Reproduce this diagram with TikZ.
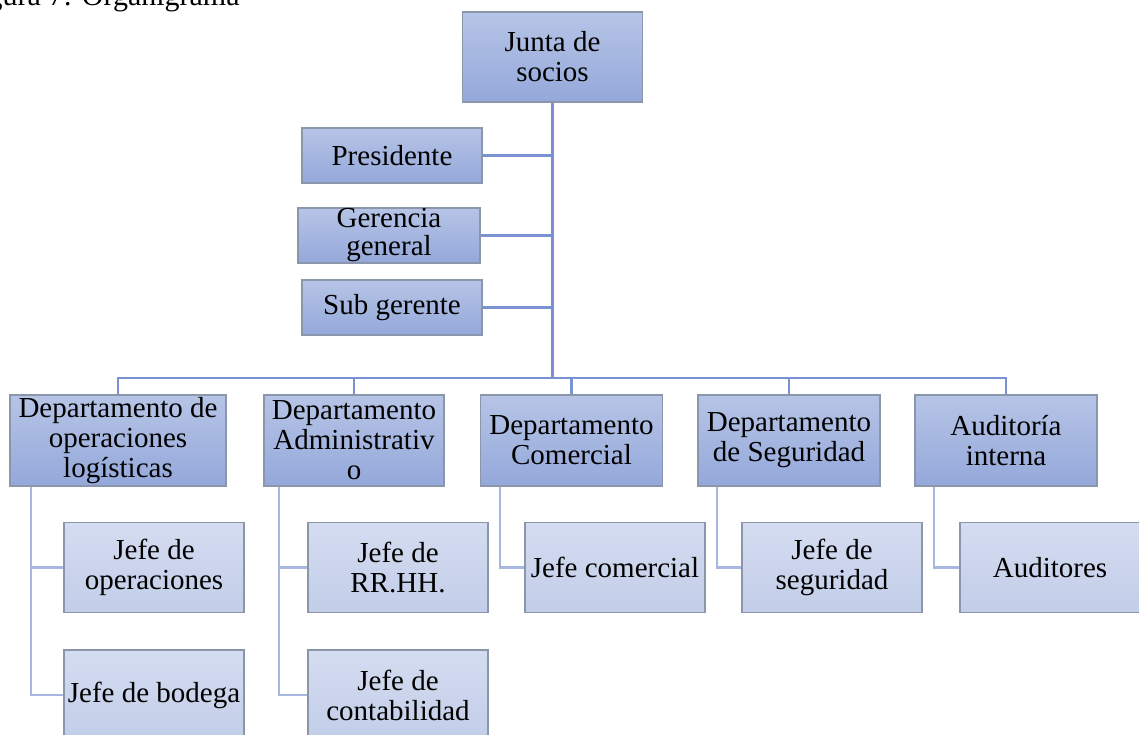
\documentclass[tikz,border=0pt]{standalone}
\usepackage{fontspec}
\setmainfont{Liberation Serif}
\usetikzlibrary{positioning}
\definecolor{boxtop}{HTML}{B6C4E6}
\definecolor{boxbot}{HTML}{94A8DA}
\definecolor{subtop}{HTML}{D4DCF0}
\definecolor{subbot}{HTML}{C2CDE8}
\definecolor{boxline}{HTML}{8C96AA}
\definecolor{trunk}{HTML}{7A92D2}
\definecolor{twig}{HTML}{A8B7E0}

\begin{document}
\begin{tikzpicture}[x=0.5pt, y=-0.5pt,
  cargo/.style={draw=boxline, line width=0.8pt, top color=boxtop, bottom color=boxbot,
    minimum width=90pt, minimum height=45pt, inner xsep=1pt, inner ysep=0pt,
    align=center, font=\fontsize{14.5}{15}\selectfont},
  jefe/.style={cargo, top color=subtop, bottom color=subbot},
  linea/.style={draw=trunk, line width=1.2pt},
  rama/.style={draw=twig, line width=1.2pt}]
\useasboundingbox (0,0) rectangle (1139,734);
% titulo (cortado arriba)
\node [anchor=base east, inner sep=0pt, font=\fontsize{15}{18}\selectfont] (titulo) at (240,5) {Figura 7: Organigrama};
% nivel superior
\node [cargo] (junta) at (552.5,57) {Junta de\\socios};
\node [cargo, minimum height=27.5pt] (pres) at (392,155.5) {Presidente};
\node [cargo, minimum width=91pt, minimum height=27.5pt, font=\fontsize{14.5}{14}\selectfont] (ger) at (389,235.5) {Gerencia\\general};
\node [cargo, minimum height=27.5pt] (sub) at (392,307.5) {Sub gerente};
% departamentos
\node [cargo, minimum width=108pt, minimum height=45.5pt] (d1) at (118,440.5) {Departamento de\\operaciones\\log\'isticas};
\node [cargo, minimum height=45.5pt] (d2) at (354,440.5) {Departamento\\Administrativ\\o};
\node [cargo, minimum width=91pt, minimum height=45.5pt] (d3) at (571.5,440.5) {Departamento\\Comercial};
\node [cargo, minimum width=91pt, minimum height=45.5pt] (d4) at (789,440.5) {Departamento\\de Seguridad};
\node [cargo, minimum width=91pt, minimum height=45.5pt] (d5) at (1006,440.5) {Auditor\'ia\\interna};
% jefaturas
\node [jefe] (jop) at (154,567.5) {Jefe de\\operaciones};
\node [jefe] (jbod) at (154,695) {Jefe de bodega};
\node [jefe] (jrh) at (398,567.5) {Jefe de\\RR.HH.};
\node [jefe] (jcont) at (398,695) {Jefe de\\contabilidad};
\node [jefe] (jcom) at (615,567.5) {Jefe comercial};
\node [jefe] (jseg) at (832,567.5) {Jefe de\\seguridad};
\node [jefe] (aud) at (1050,567.5) {Auditores};
% conectores
\coordinate (barra) at (552.5,378);
\draw [linea] (junta.south) -- (barra);
\foreach \n in {pres,ger,sub} \draw [linea] (\n.east) -- (\n.east -| barra);
\draw [linea] (d1.north) |- (barra) -| (d5.north);
\foreach \d in {d2,d3,d4} \draw [linea] (\d.north) -- (\d.north |- barra);
\draw [rama] ([xshift=11pt]d1.south west) |- (jop.west);
\draw [rama] ([xshift=11pt]d1.south west) |- (jbod.west);
\draw [rama] ([xshift=8pt]d2.south west) |- (jrh.west);
\draw [rama] ([xshift=8pt]d2.south west) |- (jcont.west);
\draw [rama] ([xshift=10pt]d3.south west) |- (jcom.west);
\draw [rama] ([xshift=10pt]d4.south west) |- (jseg.west);
\draw [rama] ([xshift=10pt]d5.south west) |- (aud.west);
\end{tikzpicture}
\end{document}
